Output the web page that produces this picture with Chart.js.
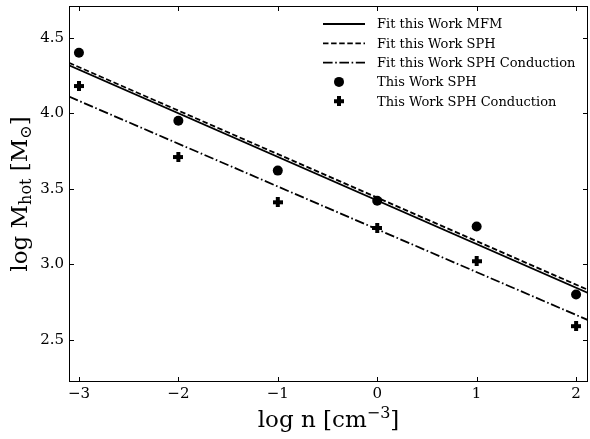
<!DOCTYPE html>
<html>
<head>
<meta charset="utf-8">
<script src="https://cdn.jsdelivr.net/npm/chart.js@4/dist/chart.umd.min.js"></script>
<style>
  body { margin: 0; background: #fff; }
</style>
</head>
<body>
<canvas id="hotChart" width="590" height="439"></canvas>
<script>
// valori
const nValues = [-3, -2, -1, 0, 1, 2];
const mHotSph = [4.40, 3.95, 3.62, 3.42, 3.25, 2.80];
const mHotSphCond = [4.18, 3.71, 3.41, 3.24, 3.02, 2.59];

// rette di fit (estremi)
const fitN = [-3.1, 2.12];
const fitMfm = [4.317, 2.81];
const fitSph = [4.334, 2.83];
const fitSphCond = [4.11, 2.63];

const xTicks = [-3, -2, -1, 0, 1, 2];
const yTicks = [2.5, 3.0, 3.5, 4.0, 4.5];

const serif = '"DejaVu Serif", serif';

function pts(xs, ys) {
    return xs.map((x, i) => ({ x: x, y: ys[i] }));
}

// marcatore "più" pieno
function plusMarker(size, arm) {
    const c = document.createElement('canvas');
    c.width = size; c.height = size;
    const g = c.getContext('2d');
    g.fillStyle = '#000';
    const o = (size - arm) / 2;
    g.fillRect(o, 0, arm, size);
    g.fillRect(0, o, size, arm);
    return c;
}
const plus = plusMarker(10, 4);

// tacche verso l'interno su tutti e quattro i lati + cornice
const frameTicks = {
    id: 'frameTicks',
    afterDatasetsDraw(chart) {
        const { ctx, chartArea: a, scales } = chart;
        ctx.save();
        ctx.strokeStyle = '#000';
        ctx.lineWidth = 1;
        ctx.strokeRect(a.left + 0.5, a.top + 0.5, a.right - a.left - 1, a.bottom - a.top - 1);
        const len = 5;
        ctx.beginPath();
        xTicks.forEach(v => {
            const px = Math.round(scales.x.getPixelForValue(v)) + 0.5;
            ctx.moveTo(px, a.bottom); ctx.lineTo(px, a.bottom - len);
            ctx.moveTo(px, a.top); ctx.lineTo(px, a.top + len);
        });
        yTicks.forEach(v => {
            const py = Math.round(scales.y.getPixelForValue(v)) + 0.5;
            ctx.moveTo(a.left, py); ctx.lineTo(a.left + len, py);
            ctx.moveTo(a.right, py); ctx.lineTo(a.right - len, py);
        });
        ctx.stroke();
        ctx.restore();
    }
};

// titoli degli assi con pedici/apici
function drawParts(ctx, parts, x, y) {
    let w = 0;
    parts.forEach(p => { ctx.font = p.size + 'px ' + serif; w += ctx.measureText(p.t).width; });
    let cx = x - w / 2;
    parts.forEach(p => {
        ctx.font = p.size + 'px ' + serif;
        ctx.fillText(p.t, cx, y + (p.dy || 0));
        cx += ctx.measureText(p.t).width;
    });
}

const axisTitles = {
    id: 'axisTitles',
    afterDraw(chart) {
        const { ctx, chartArea: a } = chart;
        ctx.save();
        ctx.fillStyle = '#000';
        ctx.textBaseline = 'alphabetic';
        ctx.textAlign = 'left';
        drawParts(ctx, [
            { t: 'log n [cm', size: 23 },
            { t: '\u22123', size: 16, dy: -9 },
            { t: ']', size: 23 }
        ], (a.left + a.right) / 2, 427);

        ctx.translate(27, (a.top + a.bottom) / 2);
        ctx.rotate(-Math.PI / 2);
        drawParts(ctx, [
            { t: 'log M', size: 23 },
            { t: 'hot', size: 16, dy: 4 },
            { t: ' [M', size: 23 },
            { t: '\u2299', size: 16, dy: 4 },
            { t: ']', size: 23 }
        ], 0, 0);
        ctx.restore();
    }
};

// legenda dentro l'area del grafico
const insideLegend = {
    id: 'insideLegend',
    afterDraw(chart) {
        const { ctx } = chart;
        const x0 = 323, x1 = 365, tx = 377, y0 = 24, step = 19.3;
        ctx.save();
        ctx.font = '13px ' + serif;
        ctx.textBaseline = 'middle';
        ctx.fillStyle = '#000';
        chart.data.datasets.forEach((ds, i) => {
            const y = y0 + i * step;
            if (ds.showLine) {
                ctx.strokeStyle = '#000';
                ctx.lineWidth = ds.borderWidth;
                ctx.setLineDash(ds.borderDash || []);
                ctx.beginPath();
                ctx.moveTo(x0, y); ctx.lineTo(x1, y);
                ctx.stroke();
                ctx.setLineDash([]);
            } else if (ds.pointStyle === 'circle') {
                ctx.beginPath();
                ctx.arc(339, y, ds.pointRadius, 0, Math.PI * 2);
                ctx.fill();
            } else {
                ctx.drawImage(plus, 339 - plus.width / 2, y - plus.height / 2);
            }
            ctx.fillText(ds.label, tx, y + 1);
        });
        ctx.restore();
    }
};

function noPadX(s) { s.height = 57; s.paddingLeft = 0; s.paddingRight = 0; }
function noPadY(s) { s.width = 69; s.paddingTop = 0; s.paddingBottom = 0; }

const ctx = document.getElementById('hotChart').getContext('2d');
const chart = new Chart(ctx, {
    type: 'scatter',
    data: {
        datasets: [
            {
                label: 'Fit this Work MFM',
                data: pts(fitN, fitMfm),
                showLine: true,
                borderColor: '#000',
                borderWidth: 1.8,
                pointRadius: 0
            },
            {
                label: 'Fit this Work SPH',
                data: pts(fitN, fitSph),
                showLine: true,
                borderColor: '#000',
                borderWidth: 1.8,
                borderDash: [5.5, 2.6],
                pointRadius: 0
            },
            {
                label: 'Fit this Work SPH Conduction',
                data: pts(fitN, fitSphCond),
                showLine: true,
                borderColor: '#000',
                borderWidth: 1.8,
                borderDash: [9.6, 2.6, 1.6, 2.6],
                pointRadius: 0
            },
            {
                label: 'This Work SPH',
                data: pts(nValues, mHotSph),
                showLine: false,
                pointStyle: 'circle',
                pointRadius: 5,
                backgroundColor: '#000',
                borderColor: '#000',
                borderWidth: 0
            },
            {
                label: 'This Work SPH Conduction',
                data: pts(nValues, mHotSphCond),
                showLine: false,
                pointStyle: plus,
                pointRadius: 5,
                backgroundColor: '#000',
                borderColor: '#000'
            }
        ]
    },
    options: {
        responsive: false,
        animation: false,
        layout: { autoPadding: false, padding: { top: 6, right: 2, left: 0, bottom: 0 } },
        plugins: {
            legend: { display: false },
            tooltip: { enabled: false }
        },
        scales: {
            x: {
                type: 'linear',
                min: -3.1,
                max: 2.12,
                afterBuildTicks: s => { s.ticks = xTicks.map(v => ({ value: v })); },
                afterFit: noPadX,
                grid: { display: false, drawTicks: false },
                border: { display: false },
                ticks: {
                    padding: 3,
                    color: '#000',
                    font: { family: serif, size: 15 },
                    maxRotation: 0,
                    callback: v => String(v).replace('-', '\u2212')
                }
            },
            y: {
                type: 'linear',
                min: 2.22,
                max: 4.71,
                afterBuildTicks: s => { s.ticks = yTicks.map(v => ({ value: v })); },
                afterFit: noPadY,
                grid: { display: false, drawTicks: false },
                border: { display: false },
                ticks: {
                    padding: 5,
                    color: '#000',
                    font: { family: serif, size: 15 },
                    callback: v => v.toFixed(1)
                }
            }
        }
    },
    plugins: [frameTicks, axisTitles, insideLegend]
});
</script>
</body>
</html>
